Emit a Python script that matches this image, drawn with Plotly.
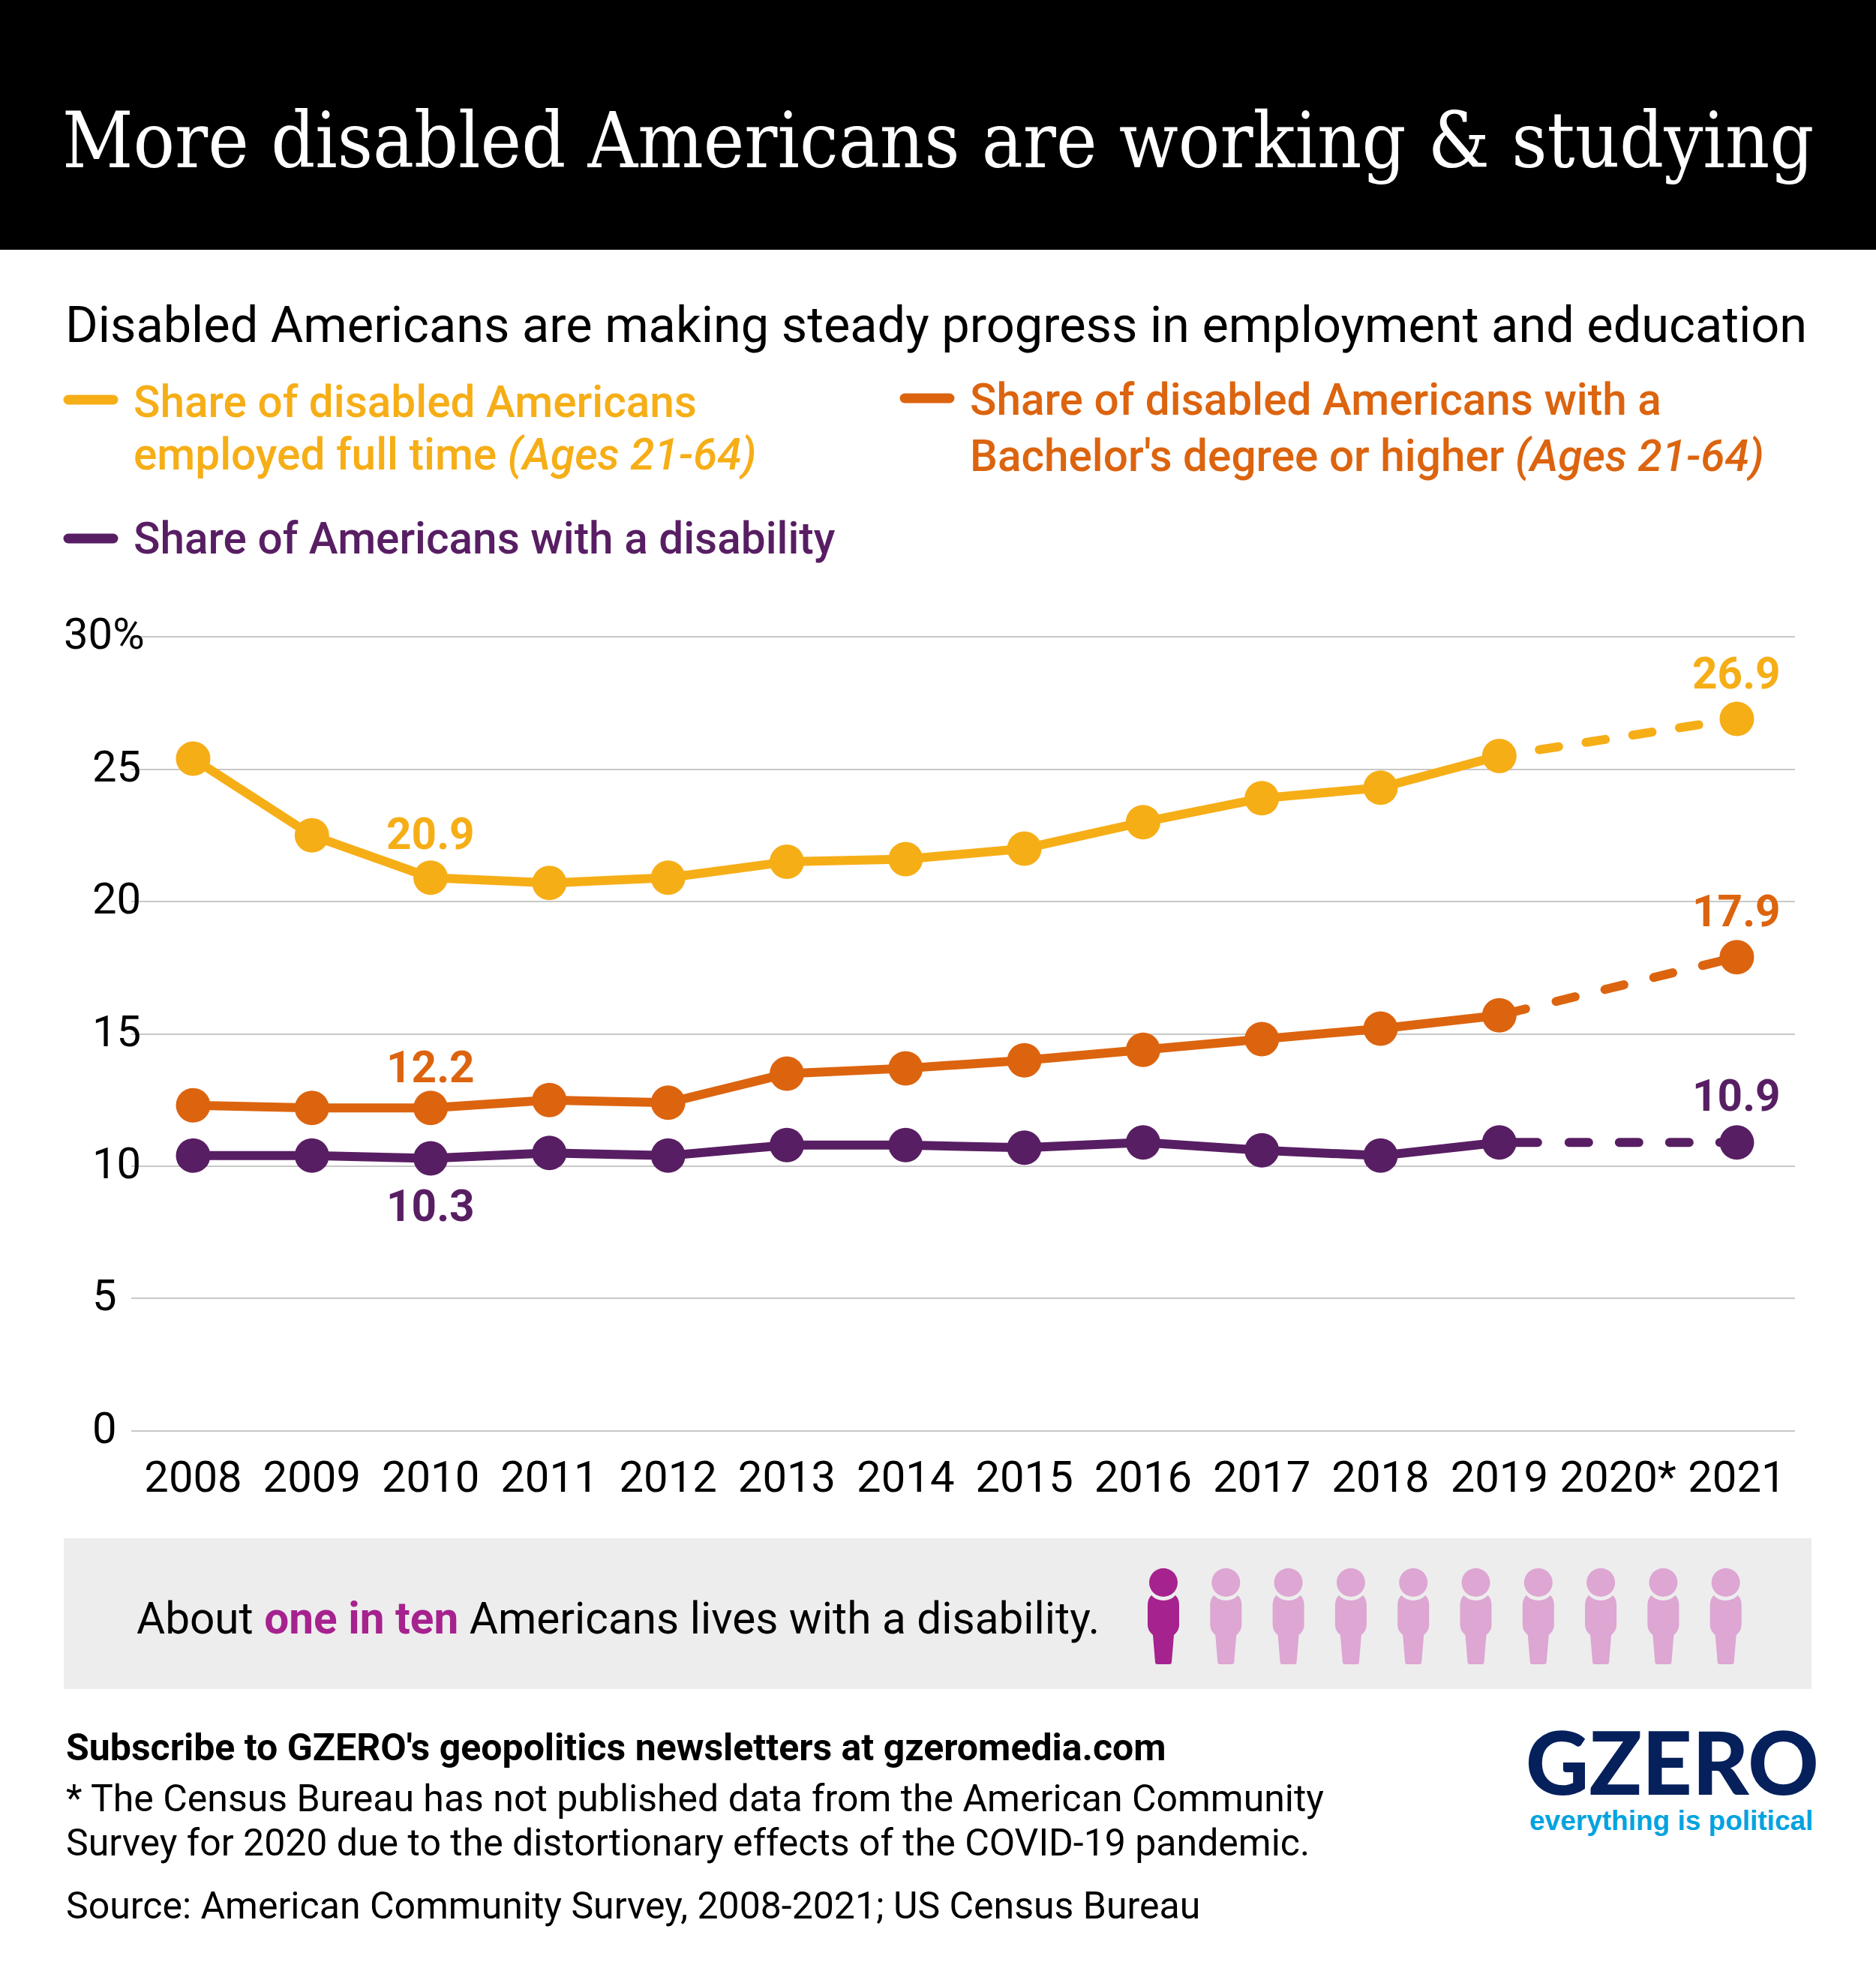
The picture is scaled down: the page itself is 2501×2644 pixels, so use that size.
import plotly.graph_objects as go

W, H = 2501, 2644

years = [2008, 2009, 2010, 2011, 2012, 2013, 2014, 2015, 2016, 2017, 2018, 2019, 2021]
tick_years = [2008, 2009, 2010, 2011, 2012, 2013, 2014, 2015, 2016, 2017, 2018, 2019, 2020, 2021]
tick_text = ["2008", "2009", "2010", "2011", "2012", "2013", "2014", "2015", "2016", "2017", "2018", "2019", "2020*", "2021"]
employed = [25.4, 22.5, 20.9, 20.7, 20.9, 21.5, 21.6, 22.0, 23.0, 23.9, 24.3, 25.5, 26.9]
bachelor = [12.3, 12.2, 12.2, 12.5, 12.4, 13.5, 13.7, 14.0, 14.4, 14.8, 15.2, 15.7, 17.9]
disabled = [10.4, 10.4, 10.3, 10.5, 10.4, 10.8, 10.8, 10.7, 10.9, 10.6, 10.4, 10.9, 10.9]
y_ticks = [0, 5, 10, 15, 20, 25, 30]
y_labels = ["0", "5", "10", "15", "20", "25", "30%"]

YELLOW = "#F6AE17"
ORANGE = "#DC640F"
PURPLE = "#581E63"
MAGENTA = "#A6228E"
PINK = "#DDA6D3"
NAVY = "#06205C"
BLUE = "#00A3E0"
FONT = "Roboto"


def px(x):
    return x / W


def py(y):
    return 1 - y / H


def note(x, y, text, size, color="black", weight=400, family=FONT, anchor="left"):
    fig.add_annotation(xref="paper", yref="paper", x=px(x), y=py(y), text=text, showarrow=False,
                       xanchor=anchor, yanchor="middle", borderpad=0, align="left",
                       font=dict(family=family, size=size, color=color, weight=weight))


fig = go.Figure()

series = [
    (employed, YELLOW, "0px,54px,26px,37px,26px,37px,26px,37px,26px,100px"),
    (bachelor, ORANGE, "36px,42px,26px,41px,26px,41px,26px,41px,60px"),
    (disabled, PURPLE, "51px,42px,26px,41px,26px,41px,26px,41px,60px"),
]
for values, color, dash in series:
    fig.add_trace(go.Scatter(x=years[:12], y=values[:12], mode="lines",
                             line=dict(color=color, width=12)))
    fig.add_trace(go.Scatter(x=years[11:], y=values[11:], mode="lines",
                             line=dict(color=color, width=12, dash=dash)))
    fig.add_trace(go.Scatter(x=years, y=values, mode="markers",
                             marker=dict(color=color, size=46, line=dict(width=0))))

# value labels
labels = [
    (2010, employed[2], YELLOW, 58.5),
    (2021, employed[12], YELLOW, 60),
    (2010, bachelor[2], ORANGE, 54.5),
    (2021, bachelor[12], ORANGE, 61),
    (2010, disabled[2], PURPLE, -63.5),
    (2021, disabled[12], PURPLE, 62),
]
for x, y, color, shift in labels:
    fig.add_annotation(x=x, y=y, text=f"{y}", showarrow=False, yshift=shift,
                       font=dict(family=FONT, size=58.5, color=color, weight=700))

for v, t in zip(y_ticks, y_labels):
    fig.add_annotation(xref="paper", x=px(83 if t == "30%" else 121), y=v, yref="y", text=t,
                       showarrow=False, xanchor="left", yanchor="middle", yshift=4,
                       font=dict(family=FONT, size=58, color="black"))

# header, band
fig.add_shape(type="rect", xref="paper", yref="paper", x0=0, x1=1, y0=py(333), y1=1,
              fillcolor="black", line_width=0, layer="below")
fig.add_shape(type="rect", xref="paper", yref="paper", x0=px(85), x1=px(2415), y0=py(2252), y1=py(2051),
              fillcolor="#EDEDED", line_width=0, layer="below")

note(82, 187, "More disabled Americans are working &amp; studying", 102.6, "white", family="DejaVu Serif Condensed")
note(86, 433, "Disabled Americans are making steady progress in employment and education", 66.7)

# legend
for x, y, color in [(85, 533, YELLOW), (1200, 531, ORANGE), (85, 718, PURPLE)]:
    fig.add_shape(type="line", xref="paper", yref="paper", x0=px(x + 6), x1=px(x + 66), y0=py(y), y1=py(y),
                  line=dict(color=color, width=13))
note(177, 536, "Share of disabled Americans", 58.5, YELLOW, 500)
note(177, 606, "employed full time <i>(Ages 21-64)</i>", 58.5, YELLOW, 500)
note(1292, 533, "Share of disabled Americans with a", 58.5, ORANGE, 500)
note(1292, 608, "Bachelor's degree or higher <i>(Ages 21-64)</i>", 58.5, ORANGE, 500)
note(177, 718, "Share of Americans with a disability", 58.5, PURPLE, 500)

# one in ten strip
note(181, 2158, f"About <b><span style='color:{MAGENTA}'>one in ten</span></b> Americans lives with a disability.", 58.5)
for i in range(10):
    cx = 1551 + i * 83.3
    color = MAGENTA if i == 0 else PINK
    fig.add_shape(type="circle", xref="paper", yref="paper", x0=px(cx - 19), x1=px(cx + 19),
                  y0=py(2129), y1=py(2091), fillcolor=color, line_width=0)
    pts = (f"M {px(cx-16)} {py(2127)} Q {px(cx-10)} {py(2134)} {px(cx)} {py(2134)} "
           f"Q {px(cx+10)} {py(2134)} {px(cx+16)} {py(2127)} "
           f"Q {px(cx+21)} {py(2132)} {px(cx+21)} {py(2140)} L {px(cx+21)} {py(2167)} "
           f"Q {px(cx+21)} {py(2174)} {px(cx+14)} {py(2180)} L {px(cx+11)} {py(2216)} "
           f"Q {px(cx+11)} {py(2219)} {px(cx+8)} {py(2219)} L {px(cx-8)} {py(2219)} "
           f"Q {px(cx-11)} {py(2219)} {px(cx-11)} {py(2216)} L {px(cx-14)} {py(2180)} "
           f"Q {px(cx-21)} {py(2174)} {px(cx-21)} {py(2167)} L {px(cx-21)} {py(2140)} "
           f"Q {px(cx-21)} {py(2132)} {px(cx-16)} {py(2127)} Z")
    fig.add_shape(type="path", xref="paper", yref="paper", path=pts, fillcolor=color, line_width=0)

# footer
note(87, 2330, "Subscribe to GZERO's geopolitics newsletters at gzeromedia.com", 50, "black", 700)
note(87, 2398, "* The Census Bureau has not published data from the American Community", 50)
note(87, 2457, "Survey for 2020 due to the distortionary effects of the COVID-19 pandemic.", 50)
note(87, 2541, "Source: American Community Survey, 2008-2021; US Census Bureau", 50)

# logo
note(2033, 2348, "GZERO", 116.5, NAVY, 900, "Lato")
note(2038, 2427, "everything is political", 37, BLUE, 700, "Liberation Sans")

fig.update_layout(
    width=W, height=H, margin=dict(l=0, r=0, t=0, b=0), showlegend=False,
    plot_bgcolor="white", paper_bgcolor="white",
    xaxis=dict(domain=[px(175), px(2393)], range=[2007.479, 2021.49], tickvals=tick_years, ticktext=tick_text,
               showgrid=False, zeroline=False, ticks="outside", ticklen=3, tickcolor="rgba(0,0,0,0)",
               tickfont=dict(family=FONT, size=58, color="black")),
    yaxis=dict(domain=[py(1915), py(842)], range=[-0.2, 30.2], tickvals=y_ticks, showticklabels=False,
               showgrid=True, gridcolor="#C8C8C8", gridwidth=2, zeroline=False),
)

fig.write_html("out.html", config={"displayModeBar": False}, post_script="""
var s = document.createElement('style');
s.textContent = 'body{margin:0;overflow:hidden} .js-line,.shapelayer path{stroke-linecap:round !important;stroke-linejoin:round !important}';
document.head.appendChild(s);
""")
